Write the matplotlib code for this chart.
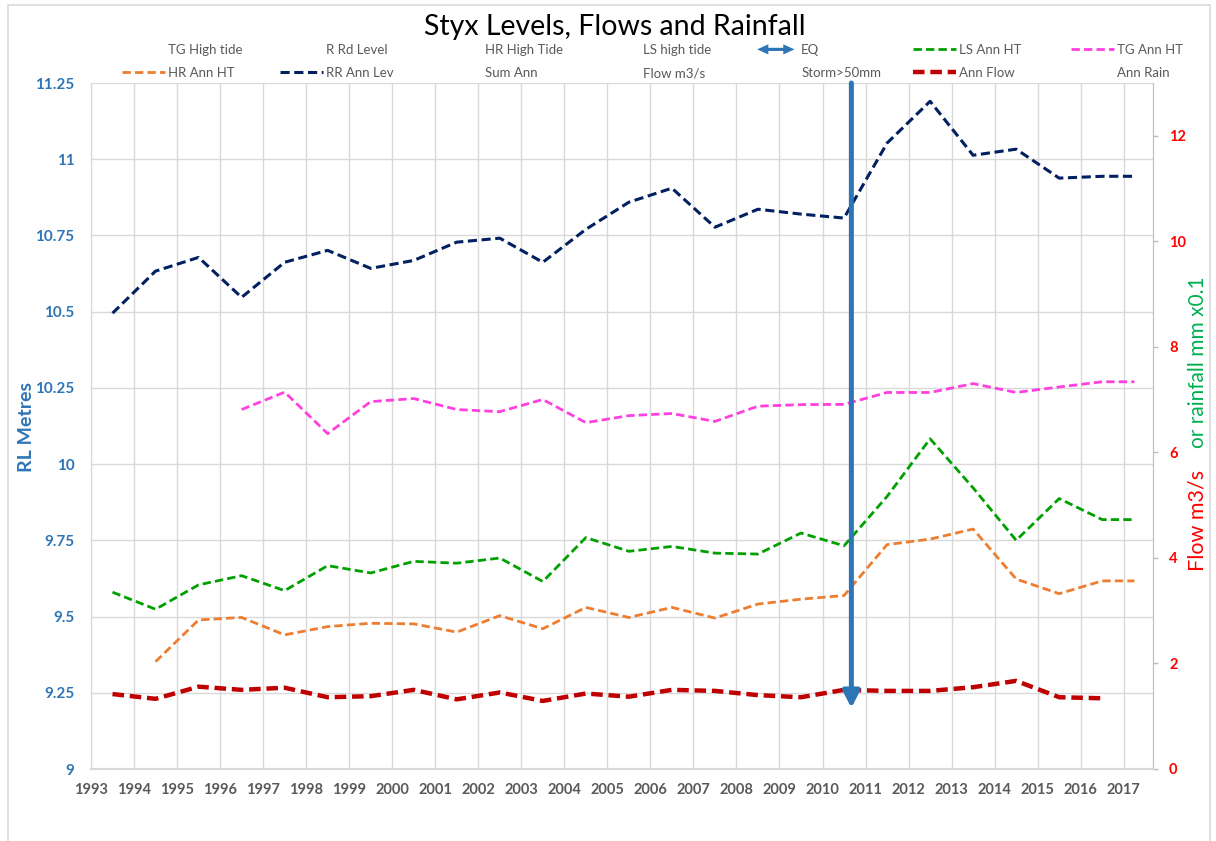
import matplotlib
matplotlib.use('Agg')
import numpy as np
import matplotlib.pyplot as plt
from matplotlib import font_manager
from matplotlib.lines import Line2D
from matplotlib.patches import Polygon, Rectangle
from matplotlib.legend_handler import HandlerBase

W, H = 1216, 841
plt.rcParams['font.family'] = ['Lato', 'DejaVu Sans']


def has_bold(name):
    for f in font_manager.fontManager.ttflist:
        if f.name == name:
            w = f.weight
            if isinstance(w, str):
                w = font_manager.weight_dict.get(w, 400)
            if w >= 600:
                return True
    return False


BOLD_FAMILY = ['Lato', 'DejaVu Sans']
for cand in ['Lato', 'Open Sans', 'Noto Sans', 'Liberation Sans']:
    if has_bold(cand):
        BOLD_FAMILY = [cand, 'DejaVu Sans']
        break

# ---------------- data ----------------
x_pos = [1993.5, 1994.5, 1995.5, 1996.5, 1997.5, 1998.5, 1999.5, 2000.5, 2001.5,
         2002.5, 2003.5, 2004.5, 2005.5, 2006.5, 2007.5, 2008.5, 2009.5, 2010.5,
         2011.5, 2012.5, 2013.5, 2014.5, 2015.5, 2016.5, 2017.25]

rr_ann_lev = [10.495, 10.633, 10.678, 10.547, 10.662, 10.701, 10.642, 10.668, 10.728,
              10.741, 10.662, 10.770, 10.859, 10.905, 10.777, 10.836, 10.820, 10.807,
              11.053, 11.190, 11.013, 11.033, 10.938, 10.944, 10.944]

tg_ann_ht = [None, None, None, 10.179, 10.236, 10.100, 10.205, 10.215, 10.179,
             10.172, 10.212, 10.136, 10.159, 10.166, 10.140, 10.190, 10.195, 10.196,
             10.235, 10.235, 10.264, 10.235, 10.253, 10.270, 10.270]

ls_ann_ht = [9.580, 9.524, 9.604, 9.634, 9.585, 9.667, 9.643, 9.681, 9.675,
             9.692, 9.615, 9.759, 9.714, 9.730, 9.708, 9.705, 9.774, 9.732,
             9.894, 10.083, 9.922, 9.750, 9.887, 9.818, 9.818]

hr_ann_ht = [None, 9.352, 9.489, 9.497, 9.440, 9.467, 9.478, 9.476, 9.449,
             9.503, 9.460, 9.530, 9.497, 9.530, 9.495, 9.541, 9.557, 9.569,
             9.736, 9.754, 9.787, 9.623, 9.575, 9.617, 9.617]

ann_flow = [1.42, 1.33, 1.56, 1.50, 1.54, 1.36, 1.38, 1.50, 1.32,
            1.45, 1.29, 1.43, 1.37, 1.50, 1.48, 1.40, 1.36, 1.50,
            1.48, 1.48, 1.55, 1.67, 1.36, 1.34, None]

eq_x = [2010.67, 2010.67]
eq_y = [11.25, 9.20]

x_ticks = list(range(1993, 2018))
left_ticks = [9, 9.25, 9.5, 9.75, 10, 10.25, 10.5, 10.75, 11, 11.25]
right_ticks = [0, 2, 4, 6, 8, 10, 12]

# ---------------- styles ----------------
NAVY = '#002060'
PINK = '#FF40E0'
GREEN = '#00A000'
ORANGE = '#ED7D31'
DRED = '#C00000'
EQBLUE = '#2E75B6'
GRID = '#D9D9D9'
TXT = '#595959'

fig = plt.figure(figsize=(W / 100, H / 100), dpi=100)
fig.patches.append(Rectangle((8 / W, -0.02), (1210 - 8) / W, 1 - 5 / H + 0.02,
                             transform=fig.transFigure, fill=False,
                             ec=GRID, lw=1.2, zorder=0))

ax = fig.add_axes([91 / W, 1 - 769 / H, (1153 - 91) / W, (769 - 83) / H])
ax2 = ax.twinx()

ax.set_xlim(1993, 2017.68)
ax.set_ylim(9, 11.25)
ax2.set_ylim(0, 13)

ax.set_xticks(x_ticks)
ax.set_xticklabels([str(t) for t in x_ticks], fontweight='bold', family=BOLD_FAMILY)
ax.set_yticks(left_ticks)
ax.set_yticklabels(['{:g}'.format(t) for t in left_ticks], fontweight='bold',
                   family=BOLD_FAMILY)
ax2.set_yticks(right_ticks)
ax2.set_yticklabels([str(t) for t in right_ticks], fontweight='bold',
                    family=BOLD_FAMILY)

ax.grid(True, color=GRID, lw=1.0)
ax.set_axisbelow(True)
for a in (ax, ax2):
    a.spines['top'].set_visible(False)
    a.spines['left'].set_color(GRID)
    a.spines['bottom'].set_color(GRID)
    a.spines['bottom'].set_linewidth(1.5)
    a.spines['right'].set_color('#BFBFBF')

ax.tick_params(axis='x', length=0, pad=10, labelsize=10.5, labelcolor=TXT)
ax.tick_params(axis='y', length=0, pad=12, labelsize=11, labelcolor=EQBLUE)
ax2.tick_params(axis='y', length=3.6, width=1, color='#BFBFBF', pad=8,
                labelsize=10.5, labelcolor='#FF0000')

xs = np.array(x_pos, dtype=float)
dash = (3, 1.5)
l_rr, = ax.plot(xs, np.array(rr_ann_lev, dtype=float), color=NAVY, lw=2.2, dashes=dash)
l_tg, = ax.plot(xs, np.array(tg_ann_ht, dtype=float), color=PINK, lw=2.0, dashes=dash)
l_ls, = ax.plot(xs, np.array(ls_ann_ht, dtype=float), color=GREEN, lw=2.0, dashes=dash)
l_hr, = ax.plot(xs, np.array(hr_ann_ht, dtype=float), color=ORANGE, lw=2.0, dashes=dash)
l_fl, = ax2.plot(xs, np.array(ann_flow, dtype=float), color=DRED, lw=3.2, dashes=(2.6, 1.3))

ax2.annotate('', xy=(eq_x[1], eq_y[1]), xytext=(eq_x[0], eq_y[0]),
             xycoords=ax.transData, textcoords=ax.transData,
             arrowprops=dict(arrowstyle='-|>,head_length=0.65,head_width=0.33',
                             lw=3.6, color=EQBLUE, shrinkA=0, shrinkB=0,
                             mutation_scale=15), zorder=10)

# ---------------- texts ----------------
fig.text(615 / W, 1 - 27 / H, 'Styx Levels, Flows and Rainfall', ha='center',
         va='center', fontsize=20.5, color='black')
fig.text(27 / W, 1 - 427 / H, 'RL Metres', rotation=90, ha='center', va='center',
         fontsize=14, fontweight='bold', family=BOLD_FAMILY, color=EQBLUE)
fig.text(1198 / W, 1 - 520 / H, 'Flow m3/s', rotation=90, ha='center', va='center',
         fontsize=15.5, color='#FF0000')
fig.text(1198 / W, 1 - 362 / H, 'or rainfall mm x0.1', rotation=90, ha='center',
         va='center', fontsize=15, color='#00B050')


# ---------------- legend ----------------
class DoubleArrowHandler(HandlerBase):
    def create_artists(self, legend, orig_handle, xdescent, ydescent, width,
                       height, fontsize, trans):
        x0 = -xdescent + width * 0.05
        x1 = -xdescent + width * 0.92
        yc = -ydescent + height / 2
        hw = height * 0.55
        sw = height * 0.17
        hl = (x1 - x0) * 0.3
        pts = [(x0, yc), (x0 + hl, yc + hw), (x0 + hl, yc + sw), (x1 - hl, yc + sw),
               (x1 - hl, yc + hw), (x1, yc), (x1 - hl, yc - hw), (x1 - hl, yc - sw),
               (x0 + hl, yc - sw), (x0 + hl, yc - hw)]
        p = Polygon(pts, closed=True, facecolor=EQBLUE, edgecolor='none',
                    transform=trans)
        return [p]


def blank():
    return Line2D([], [], linestyle='none')


eq_handle = Line2D([], [], color=EQBLUE)

col_x = [122, 280, 439, 597, 755, 913, 1071]
row_y = [50, 73]
entries = [
    (0, 0, blank(), 'TG High tide'),
    (1, 0, blank(), 'R Rd Level'),
    (2, 0, blank(), 'HR High Tide'),
    (3, 0, blank(), 'LS high tide'),
    (4, 0, eq_handle, 'EQ'),
    (5, 0, l_ls, 'LS Ann HT'),
    (6, 0, l_tg, 'TG Ann HT'),
    (0, 1, l_hr, 'HR Ann HT'),
    (1, 1, l_rr, 'RR Ann Lev'),
    (2, 1, blank(), 'Sum Ann'),
    (3, 1, blank(), 'Flow m3/s'),
    (4, 1, blank(), 'Storm>50mm'),
    (5, 1, l_fl, 'Ann Flow'),
    (6, 1, blank(), 'Ann Rain'),
]
for c, r, h, lab in entries:
    fig.legend([h], [lab], loc='center left',
               bbox_to_anchor=(col_x[c] / W, 1 - row_y[r] / H),
               frameon=False, borderpad=0, borderaxespad=0,
               handlelength=3.25, handletextpad=0.25, fontsize=9.5,
               labelcolor=TXT, handler_map={eq_handle: DoubleArrowHandler()})

fig.savefig('out.png', dpi=100)
